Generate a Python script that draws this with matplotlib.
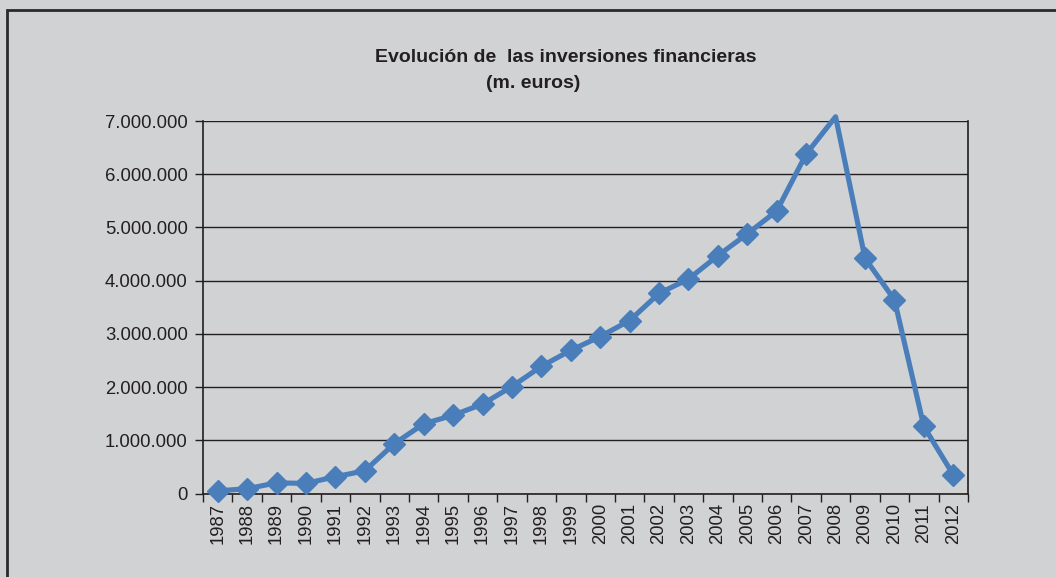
import numpy as np
import matplotlib.pyplot as plt
from matplotlib.patches import Rectangle

years = [str(y) for y in range(1987, 2013)]
inversiones = [50000, 90000, 200000, 190000, 315000, 427000, 935000, 1310000,
               1470000, 1680000, 2010000, 2390000, 2690000, 2950000, 3250000,
               3760000, 4030000, 4470000, 4880000, 5310000, 6380000, 7080000,
               4420000, 3640000, 1260000, 350000]
sin_marcador = ['2008']
y_ticks = [0, 1000000, 2000000, 3000000, 4000000, 5000000, 6000000, 7000000]

bg = '#d1d2d4'
azul = '#4a7ebb'
plt.rcParams['font.family'] = ['Liberation Sans', 'DejaVu Sans']

fig = plt.figure(figsize=(10.56, 5.77), dpi=100, facecolor=bg)
ax = fig.add_axes([203/1056, 1-493.5/577, 765/1056, 372.5/577])
ax.set_facecolor(bg)

# marco del grafico
fig.patches.append(Rectangle((6.5/1056, -0.1), 1.2, 1-9.5/577+0.1,
                             transform=fig.transFigure, fill=False,
                             edgecolor='#2a2a2a', linewidth=2))

x = np.arange(len(years))
ax.plot(x, inversiones, color=azul, linewidth=3.7, clip_on=False, zorder=3)
mk = [i for i, yr in enumerate(years) if yr not in sin_marcador]
ax.plot(x[mk], np.array(inversiones)[mk], linestyle='none', marker='D',
        markersize=11.5, color=azul, clip_on=False, zorder=4)

ax.set_xlim(-0.5, len(years) - 0.5)
ax.set_ylim(0, 7000000)
ax.set_yticks(y_ticks)
ax.set_yticklabels(['{:,}'.format(v).replace(',', '.') for v in y_ticks],
                   fontsize=13.3, color='#231f20')
ax.set_xticks(x)
ax.set_xticklabels(years, rotation=90, fontsize=13.3, color='#231f20')
ax.set_xticks(np.arange(-0.5, len(years)), minor=True)
ax.tick_params(axis='x', which='major', length=0, pad=7)
ax.tick_params(axis='x', which='minor', length=6, width=1, color='#231f20')
ax.tick_params(axis='y', length=6, width=1, color='#231f20', pad=5)
ax.grid(axis='y', color='#231f20', linewidth=1)
for s in ['left', 'bottom', 'right']:
    ax.spines[s].set_color('#231f20')
    ax.spines[s].set_linewidth(1.2)
ax.spines['top'].set_visible(False)

fig.text(566/1056, 1-58/577, 'Evolución de  las inversiones financieras',
         ha='center', va='center', fontsize=14, fontweight='bold', color='#231f20')
fig.text(533/1056, 1-84/577, '(m. euros)',
         ha='center', va='center', fontsize=14, fontweight='bold', color='#231f20')

fig.savefig('out.png', dpi=100, facecolor=bg)
